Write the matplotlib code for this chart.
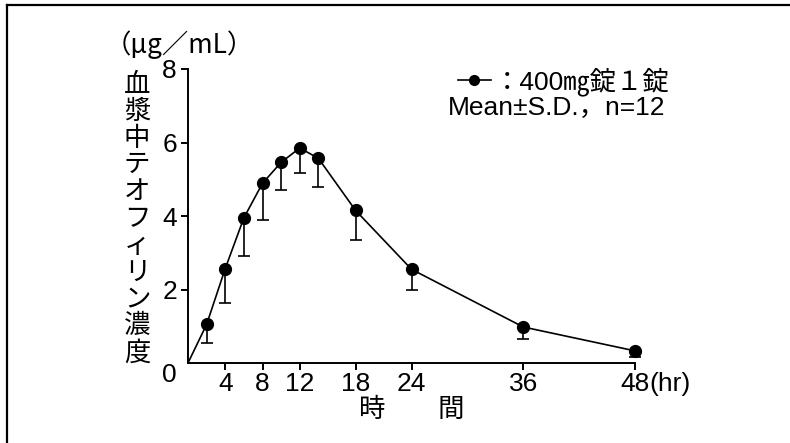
import numpy as np
import matplotlib
matplotlib.use("Agg")
import matplotlib.pyplot as plt
from matplotlib.lines import Line2D

plt.rcParams['font.family'] = ['Liberation Sans', 'Noto Sans CJK JP', 'DejaVu Sans']

# plasma theophylline concentration, 400mg tablet x1 (mean, lower SD)
time = [2, 4, 6, 8, 10, 12, 14, 18, 24, 36, 48]
conc_mean = [1.05, 2.57, 3.95, 4.89, 5.46, 5.85, 5.57, 4.15, 2.55, 0.98, 0.33]
conc_sd = [0.50, 0.94, 1.05, 0.99, 0.75, 0.67, 0.77, 0.80, 0.57, 0.33, 0.18]
xticks = [4, 8, 12, 18, 24, 36, 48]
yticks = [0, 2, 4, 6, 8]
ylabel = "血漿中テオフィリン濃度"
unit_label = "（μg／mL）"
xlabel = "時　　間"
legend_label = "：400㎎錠１錠"
stats_label = "Mean±S.D.，n=12"

FS = 19

fig = plt.figure(figsize=(7.9, 4.43), dpi=100)
ax = fig.add_axes([188 / 790, 1 - 363 / 443, (635 - 188) / 790, (363 - 69) / 443])

# line starts from the origin
ax.plot([0] + time, [0] + conc_mean, color='black', lw=1.2, zorder=2, clip_on=False)
eb = ax.errorbar(time, conc_mean, yerr=[conc_sd, np.zeros(len(conc_sd))],
                 fmt='none', ecolor='black', elinewidth=1.2, capsize=4.5, capthick=1.2,
                 zorder=1, clip_on=False)
# hide the zero-length upper caps
for cl in eb[1]:
    if np.allclose(cl.get_ydata(), conc_mean):
        cl.set_visible(False)
ax.plot(time, conc_mean, 'o', color='black', ms=8.5, zorder=3, clip_on=False)

ax.set_xlim(0, 48)
ax.set_ylim(0, 8)
ax.spines['top'].set_visible(False)
ax.spines['right'].set_visible(False)
for s in ['left', 'bottom']:
    ax.spines[s].set_linewidth(1.4)
ax.set_xticks(xticks)
ax.set_yticks(yticks)
ax.tick_params(direction='out', length=5, width=1.4, labelsize=FS, pad=1.5)
ax.tick_params(axis='y', pad=3)
t0 = ax.yaxis.get_major_ticks()[0]
t0.tick1line.set_visible(False)
t0.label1.set_verticalalignment('top')

# "(hr)" right after the last tick label
ax.annotate("(hr)", xy=(48, 0), xytext=(10.5, -6.5), textcoords='offset points',
            fontsize=FS, ha='left', va='top', annotation_clip=False)

# figure frame (top and left only)
fig.add_artist(Line2D([7 / 790, 7 / 790], [0, 1 - 5 / 443], color='black', lw=1.6,
                      transform=fig.transFigure))
fig.add_artist(Line2D([7 / 790, 1], [1 - 5 / 443, 1 - 5 / 443], color='black', lw=1.6,
                      transform=fig.transFigure))

# vertical y label, one character per row
for i, ch in enumerate(ylabel):
    fig.text(137 / 790, 1 - (85 + i * 26.8) / 443, ch, fontsize=FS, ha='center', va='center')

fig.text(254 / 790, 1 - 45 / 443, unit_label, fontsize=FS, ha='right', va='center',
         family=['Noto Sans CJK JP', 'DejaVu Sans'])
fig.text(412 / 790, 1 - 410 / 443, xlabel, fontsize=FS, ha='center', va='center')

handle = Line2D([], [], color='black', lw=1.2, marker='o', ms=7)
ax.legend([handle], [legend_label], loc='center left',
          bbox_to_anchor=(458 / 790, 1 - 82 / 443), bbox_transform=fig.transFigure,
          frameon=False, fontsize=FS, handlelength=1.25, handletextpad=0.1,
          borderpad=0, borderaxespad=0)
fig.text(665 / 790, 1 - 108 / 443, stats_label, fontsize=FS, ha='right', va='center')

fig.savefig("out.png", dpi=100)
